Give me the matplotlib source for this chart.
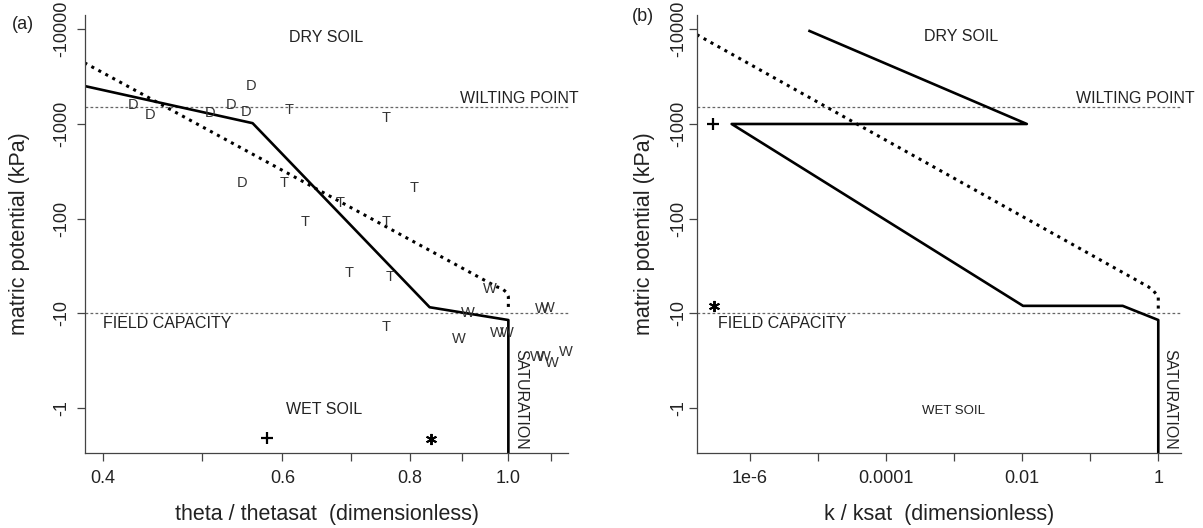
import matplotlib
matplotlib.use("Agg")
import matplotlib.pyplot as plt
from matplotlib.ticker import NullLocator

plt.rcParams['font.family'] = ['Liberation Sans', 'DejaVu Sans']

# ---- panel (a): retention curve, theta/thetasat vs matric potential ----
ret_x = [0.3836, 0.561, 0.837, 1.0, 1.0]
ret_y = [2520, 1020, 11.6, 8.5, 0.2]
cam_x = [0.3836, 0.9736, 0.9848, 0.9944, 1.0, 1.0]
cam_y = [4436, 19.1, 18.4, 16.9, 15.0, 10.4]

d_x = [0.428, 0.4445, 0.509, 0.5345, 0.553, 0.559, 0.548]
d_y = [1590, 1245, 1300, 1590, 1350, 2520, 240]
t_x = [0.609, 0.759, 0.603, 0.809, 0.683, 0.631, 0.759, 0.698, 0.765, 0.759]
t_y = [1405, 1150, 237, 212, 145, 93, 93, 27, 24, 7.2]
w_x = [0.959, 0.912, 0.895, 0.975, 0.997, 1.078, 1.094, 1.067, 1.084, 1.103, 1.139]
w_y = [18.0, 10.0, 5.4, 6.2, 6.2, 11.0, 11.5, 3.5, 3.45, 3.0, 3.95]
plus_a = (0.579, 0.483)
star_a = (0.839, 0.472)

# ---- panel (b): conductivity curve, k/ksat vs matric potential ----
cond_x = [7.5e-6, 0.0117, 5.38e-7, 0.0103, 0.30, 1.0, 1.0]
cond_y = [9600, 1000, 1000, 12.0, 12.0, 8.5, 0.2]
camk_x = [1.65e-7, 0.713, 0.844, 1.0, 1.0]
camk_y = [8800, 19.1, 17.4, 15.0, 10.4]
plus_b = (2.89e-7, 1000)
star_b = (2.98e-7, 11.9)

wilting = 1500
field_cap = 10

ytick_vals = [1, 10, 100, 1000, 10000]
ytick_labs = ['-1', '-10', '-100', '-1000', '-10000']
xa_ticks = [0.4, 0.5, 0.6, 0.7, 0.8, 0.9, 1.0, 1.1]
xa_labs = ['0.4', '', '0.6', '', '0.8', '', '1.0', '']
xb_ticks = [1e-6, 1e-5, 1e-4, 1e-3, 1e-2, 1e-1, 1]
xb_labs = ['1e-6', '', '0.0001', '', '0.01', '', '1']

ink = '#222222'
W, H = 1203, 528
fig = plt.figure(figsize=(W / 100, H / 100), dpi=100)
ax1 = fig.add_axes([85 / W, 75 / H, 483.5 / W, 438 / H])
ax2 = fig.add_axes([696.7 / W, 75 / H, 484.1 / W, 438 / H])


def style(ax, xt, xl, ylpad):
    ax.set_xscale('log')
    ax.set_yscale('log')
    ax.set_ylim(0.335, 14160)
    for s in ['top', 'right']:
        ax.spines[s].set_visible(False)
    for s in ['left', 'bottom']:
        ax.spines[s].set_color('#444444')
        ax.spines[s].set_linewidth(0.9)
    ax.set_xticks(xt)
    ax.set_xticklabels(xl)
    ax.set_yticks(ytick_vals)
    ax.set_yticklabels(ytick_labs, rotation=90, va='center')
    ax.xaxis.set_minor_locator(NullLocator())
    ax.yaxis.set_minor_locator(NullLocator())
    ax.tick_params(axis='x', length=5.5, width=0.9, color='#444444',
                   labelsize=13, labelcolor=ink, pad=7)
    ax.tick_params(axis='y', length=5.5, width=0.9, color='#444444',
                   labelsize=13, labelcolor=ink, pad=ylpad)
    ax.axhline(wilting, color='#666666', lw=0.9, dashes=(2.2, 1.8))
    ax.axhline(field_cap, color='#666666', lw=0.9, dashes=(2.2, 1.8))


style(ax1, xa_ticks, xa_labs, 5)
style(ax2, xb_ticks, xb_labs, 1)
ax1.set_xlim(0.3841, 1.1456)
ax2.set_xlim(10 ** -6.783, 10 ** 0.331)

lab_fs = 11.5

# panel (a)
ax1.plot(ret_x, ret_y, color='black', lw=1.9)
ax1.plot(cam_x, cam_y, color='black', lw=2.2, dashes=(1, 1.6))
for xs, ys, lab in [(d_x, d_y, 'D'), (t_x, t_y, 'T'), (w_x, w_y, 'W')]:
    for x, y in zip(xs, ys):
        ax1.text(x, y, lab, ha='center', va='center', fontsize=10.5, color='#333333')
ax1.plot(*plus_a, marker='+', ms=9, mew=1.6, color='black', ls='none')
ax1.plot(*star_a, marker=(6, 2, 0), ms=8, mew=1.4, color='black', ls='none')

ax1.text(0.662, 8200, 'DRY SOIL', ha='center', va='center', fontsize=lab_fs, color=ink)
ax1.text(1.026, 1840, 'WILTING POINT', ha='center', va='center', fontsize=lab_fs,
         color=ink, clip_on=False)
ax1.text(0.4621, 7.86, 'FIELD CAPACITY', ha='center', va='center', fontsize=lab_fs, color=ink)
ax1.text(0.6587, 0.962, 'WET SOIL', ha='center', va='center', fontsize=lab_fs, color=ink)
ax1.text(1.0278, 1.248, 'SATURATION', ha='center', va='center', fontsize=lab_fs,
         rotation=-90, color=ink)
ax1.set_xlabel('theta / thetasat  (dimensionless)', fontsize=15.5, color=ink, labelpad=12)
ax1.set_ylabel('matric potential (kPa)', fontsize=15.5, color=ink, labelpad=16.5)

# panel (b)
ax2.plot(cond_x, cond_y, color='black', lw=1.9)
ax2.plot(camk_x, camk_y, color='black', lw=2.2, dashes=(1, 1.6))
ax2.plot(*plus_b, marker='+', ms=9, mew=1.6, color='black', ls='none')
ax2.plot(*star_b, marker=(6, 2, 0), ms=8, mew=1.4, color='black', ls='none')

ax2.text(1.28e-3, 8360, 'DRY SOIL', ha='center', va='center', fontsize=lab_fs, color=ink)
ax2.text(0.4546, 1840, 'WILTING POINT', ha='center', va='center', fontsize=lab_fs,
         color=ink, clip_on=False)
ax2.text(2.96e-6, 7.73, 'FIELD CAPACITY', ha='center', va='center', fontsize=lab_fs, color=ink)
ax2.text(9.78e-4, 0.939, 'WET SOIL', ha='center', va='center', fontsize=9.5, color=ink)
ax2.text(1.476, 1.248, 'SATURATION', ha='center', va='center', fontsize=lab_fs,
         rotation=-90, color=ink, clip_on=False)
ax2.set_xlabel('k / ksat  (dimensionless)', fontsize=15.5, color=ink, labelpad=12)
ax2.set_ylabel('matric potential (kPa)', fontsize=15.5, color=ink, labelpad=11)

fig.text(23.3 / W, 1 - 24.5 / H, '(a)', ha='center', va='center', fontsize=13, color=ink)
fig.text(643 / W, 1 - 16.7 / H, '(b)', ha='center', va='center', fontsize=13, color=ink)

fig.savefig('out.png', dpi=100)
